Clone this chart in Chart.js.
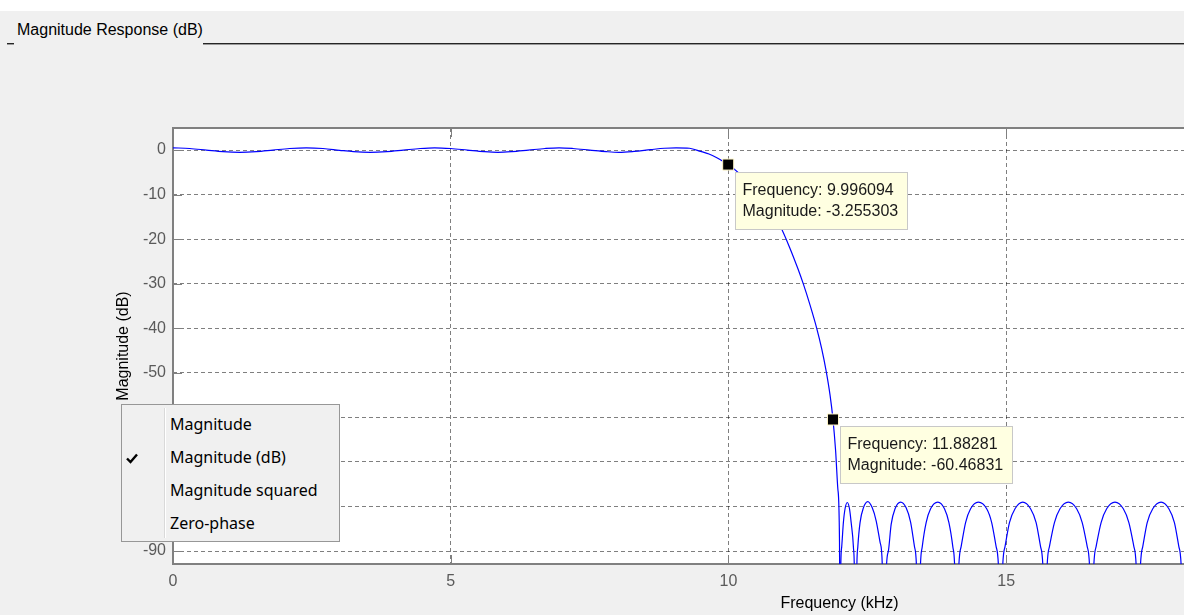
<!DOCTYPE html>
<html>
<head>
<meta charset="utf-8">
<title>Magnitude Response (dB)</title>
<script src="https://cdn.jsdelivr.net/npm/chart.js@4.4.1/dist/chart.umd.min.js"></script>
<style>
  html, body { margin: 0; padding: 0; background: #f0f0f0; overflow: hidden; }
  #fig { position: relative; width: 1184px; height: 615px; overflow: hidden; background: #f0f0f0; }
  #strip { position: absolute; left: 0; top: 0; width: 1184px; height: 11px; background: #fff; }
  #panelTitle { position: absolute; left: 17px; top: 21px; line-height: 20px; white-space: nowrap;
    font: 16px "Liberation Sans", Arial, sans-serif; color: #000; }
  .rule { position: absolute; top: 43px; height: 1px; background: #262626; }
  .rule2 { position: absolute; top: 44px; height: 1px; background: #9a9a9a; }
  #plot { position: absolute; left: 0; top: 0; }
  #menu { position: absolute; left: 121px; top: 404px; width: 217px; height: 136px;
    border: 1px solid #979797; background: #f0f0f0; font: 16px "Noto Sans", sans-serif; color: #000; }
  #menu .sep { position: absolute; left: 42px; top: 3px; width: 1px; height: 130px; background: #d9d9d9;
    border-right: 1px solid #fff; }
  #menu .item { position: absolute; left: 48px; height: 33px; line-height: 33px; white-space: nowrap; }
  #menu svg { position: absolute; left: 4px; top: 48px; }
</style>
</head>
<body>
<div id="fig">
  <div id="strip"></div>
  <div id="panelTitle">Magnitude Response (dB)</div>
  <div class="rule" style="left:7px;width:7px"></div>
  <div class="rule2" style="left:7px;width:7px"></div>
  <div class="rule" style="left:203px;width:981px"></div>
  <div class="rule2" style="left:203px;width:981px"></div>
  <canvas id="plot" width="1530" height="615"></canvas>
  <div id="menu">
    <div class="sep"></div>
    <svg width="12" height="11" viewBox="0 0 12 11"><path d="M1 5.5 L4.5 9 L11 1.5" fill="none" stroke="#000" stroke-width="2.4"/></svg>
    <div class="item" style="top:3px">Magnitude</div>
    <div class="item" style="top:36px">Magnitude (dB)</div>
    <div class="item" style="top:69px">Magnitude squared</div>
    <div class="item" style="top:102px">Zero-phase</div>
  </div>
</div>
<script>
// Passband (kHz / dB)
const passFreq = [0, 0.3, 0.6, 0.9, 1.2, 1.5, 1.8, 2.1, 2.4, 2.7, 3.0, 3.25, 3.55, 3.85, 4.15, 4.45, 4.71, 5.0, 5.3, 5.6,
    5.85, 6.1, 6.4, 6.7, 6.95, 7.2, 7.5, 7.8, 8.03, 8.3, 8.6, 8.85, 9.06, 9.3, 9.5, 9.65, 9.8, 9.9];
const passMag = [0.5, 0.35, 0.0, -0.35, -0.5, -0.35, 0.0, 0.35, 0.5, 0.35, -0.05, -0.35, -0.5, -0.35, 0.0, 0.35, 0.5, 0.35, 0.0, -0.35,
    -0.5, -0.35, 0.0, 0.35, 0.5, 0.35, 0.0, -0.35, -0.5, -0.3, 0.1, 0.4, 0.5, 0.4, -0.3, -0.9, -1.8, -2.5];

// Transition band
const transFreq = [9.996094, 10.2, 10.4, 10.6, 10.8, 10.93, 11.1, 11.25, 11.35, 11.47, 11.59, 11.68, 11.76, 11.83, 11.88281,
    11.93, 11.97, 12.0];
const transMag = [-3.255303, -5.3, -7.8, -10.8, -14.3, -17.0, -21.8, -26.6, -30.1, -34.8, -40.0, -44.6, -49.6, -55.0, -60.46831,
    -67.5, -76, -88];

// Stopband lobes
const stopFreq = [
    12.01, 12.02, 12.04, 12.07, 12.10, 12.14, 12.18, 12.21, 12.25, 12.27,
    12.29, 12.31, 12.33, 12.37, 12.43, 12.51, 12.59, 12.66, 12.73, 12.77,
    12.81, 12.84, 12.88, 12.93, 13.0, 13.1, 13.2, 13.28, 13.35, 13.39,
    13.42, 13.45, 13.49, 13.56, 13.64, 13.77, 13.89, 13.97, 14.04, 14.08,
    14.11, 14.14, 14.19, 14.27, 14.36, 14.5, 14.65, 14.74, 14.82, 14.87,
    14.90, 14.93, 14.98, 15.06, 15.16, 15.30, 15.44, 15.54, 15.62, 15.67,
    15.70, 15.73, 15.78, 15.87, 15.97, 16.12, 16.27, 16.37, 16.46, 16.51,
    16.54, 16.57, 16.62, 16.71, 16.81, 16.96, 17.11, 17.21, 17.30, 17.35,
    17.38, 17.41, 17.46, 17.54, 17.64, 17.79, 17.93, 18.03, 18.11, 18.16,
    18.19, 18.22, 18.27, 18.35, 18.45, 18.6, 18.74, 18.84, 18.92, 18.97,
    19.0];
const stopMag = [
    -130, -96, -89, -83.6, -80.5, -79.1, -80.5, -83.6, -89, -96,
    -130, -95, -89, -83.6, -80.3, -78.9, -80.3, -83.2, -88, -93,
    -130, -95, -90, -84, -80.5, -79, -80.3, -83.5, -89, -95,
    -130, -96, -89, -83.6, -80.5, -79, -80.5, -83.6, -89, -96,
    -130, -96, -89, -83.6, -80.5, -79, -80.5, -83.6, -89, -96,
    -130, -96, -89, -83.6, -80.5, -79, -80.5, -83.6, -89, -96,
    -130, -96, -89, -83.6, -80.5, -79, -80.5, -83.6, -89, -96,
    -130, -96, -89, -83.6, -80.5, -79, -80.5, -83.6, -89, -96,
    -130, -96, -89, -83.6, -80.5, -79, -80.5, -83.6, -89, -96,
    -130, -96, -89, -83.6, -80.5, -79, -80.5, -83.6, -89, -96,
    -130];

// Data tips
const tipFreq = [9.996094, 11.88281];
const tipMag = [-3.255303, -60.46831];

// Axes
const xTicks = [0, 5, 10, 15, 20];
const yTicks = [-90, -80, -70, -60, -50, -40, -30, -20, -10, 0];
const xRange = [0, 24];
const yRange = [-92.9, 4.95];

const FONT = '"Liberation Sans", Arial, sans-serif';

const freq = [...passFreq, ...transFreq, ...stopFreq];
const mag = [...passMag, ...transMag, ...stopMag];

// White axes box, frame and inward tick marks
const marcoEjes = {
    id: 'marcoEjes',
    beforeDraw: (chart) => {
        const { ctx, chartArea: a } = chart;
        ctx.save();
        ctx.fillStyle = '#ffffff';
        ctx.fillRect(a.left, a.top, a.right - a.left, a.bottom - a.top);
        ctx.restore();
    },
    beforeDatasetsDraw: (chart) => {
        const { ctx, chartArea: a, scales: { x, y } } = chart;
        ctx.save();
        ctx.strokeStyle = '#808080';
        ctx.lineWidth = 1;
        ctx.beginPath();
        xTicks.forEach(v => {
            const px = Math.round(x.getPixelForValue(v)) + 0.5;
            ctx.moveTo(px, a.top); ctx.lineTo(px, a.top + 9);
            ctx.moveTo(px, a.bottom); ctx.lineTo(px, a.bottom - 9);
        });
        yTicks.forEach(v => {
            const py = Math.round(y.getPixelForValue(v)) + 0.5;
            ctx.moveTo(a.left, py); ctx.lineTo(a.left + 9, py);
            ctx.moveTo(a.right, py); ctx.lineTo(a.right - 9, py);
        });
        ctx.stroke();
        ctx.lineWidth = 2;
        ctx.strokeRect(a.left, a.top, a.right - a.left, a.bottom - a.top);
        ctx.restore();
    }
};

// Yellow data-tip boxes next to the markers
const datosTip = {
    id: 'datosTip',
    afterDatasetsDraw: (chart) => {
        const { ctx, scales: { x, y } } = chart;
        ctx.save();
        ctx.font = '16px ' + FONT;
        ctx.textBaseline = 'middle';
        tipFreq.forEach((f, i) => {
            const lineas = [`Frequency: ${f}`, `Magnitude: ${tipMag[i]}`];
            const ancho = Math.ceil(Math.max(...lineas.map(t => ctx.measureText(t).width))) + 16;
            const bx = Math.round(x.getPixelForValue(f) + 7) + 0.5;
            const by = Math.round(y.getPixelForValue(tipMag[i]) + 7) + 0.5;
            ctx.fillStyle = '#ffffe1';
            ctx.strokeStyle = '#c8c8c8';
            ctx.lineWidth = 1;
            ctx.fillRect(bx, by, ancho, 57);
            ctx.strokeRect(bx, by, ancho, 57);
            ctx.fillStyle = '#1a1a1a';
            ctx.fillText(lineas[0], bx + 7, by + 18.5);
            ctx.fillText(lineas[1], bx + 7, by + 39);
        });
        ctx.restore();
    }
};

const crearGrafico = () => {
    const ctx = document.getElementById('plot').getContext('2d');
    new Chart(ctx, {
        type: 'line',
        data: {
            datasets: [{
                data: tipFreq.map((f, i) => ({ x: f, y: tipMag[i] })),
                showLine: false,
                pointStyle: 'rect',
                pointRadius: 7.8,
                pointBackgroundColor: '#000000',
                pointBorderColor: '#fff6c8',
                pointBorderWidth: 1,
                order: 0
            }, {
                data: freq.map((f, i) => ({ x: f, y: mag[i] })),
                borderColor: '#0000ff',
                borderWidth: 1.2,
                pointRadius: 0,
                cubicInterpolationMode: 'monotone',
                order: 1
            }]
        },
        options: {
            responsive: false,
            animation: false,
            events: [],
            layout: { padding: { left: 114, top: 128, right: 24, bottom: 0 } },
            plugins: { legend: { display: false }, tooltip: { enabled: false } },
            scales: {
                x: {
                    type: 'linear',
                    min: xRange[0],
                    max: xRange[1],
                    afterBuildTicks: (s) => { s.ticks = xTicks.map(v => ({ value: v })); },
                    afterFit: (s) => { s.height = 51; },
                    grid: { color: 'rgba(0,0,0,0.5)', lineWidth: 1, drawTicks: false },
                    border: { display: false, dash: [4, 3] },
                    ticks: { color: '#5a5a5a', padding: 8, font: { family: FONT, size: 16 }, maxRotation: 0 },
                    title: { display: true, text: 'Frequency (kHz)', color: '#000', padding: { top: 0, bottom: 2 },
                        font: { family: FONT, size: 16 } }
                },
                y: {
                    min: yRange[0],
                    max: yRange[1],
                    afterBuildTicks: (s) => { s.ticks = yTicks.map(v => ({ value: v })); },
                    afterFit: (s) => { s.width = 59; },
                    grid: { color: 'rgba(0,0,0,0.5)', lineWidth: 1, drawTicks: false },
                    border: { display: false, dash: [4, 3] },
                    ticks: { color: '#5a5a5a', padding: 7, font: { family: FONT, size: 16 } },
                    title: { display: true, text: 'Magnitude (dB)', color: '#000', padding: { top: 0, bottom: 0 },
                        font: { family: FONT, size: 16 } }
                }
            }
        },
        plugins: [marcoEjes, datosTip]
    });
};

document.addEventListener('DOMContentLoaded', () => {
    crearGrafico();
});
</script>
</body>
</html>
